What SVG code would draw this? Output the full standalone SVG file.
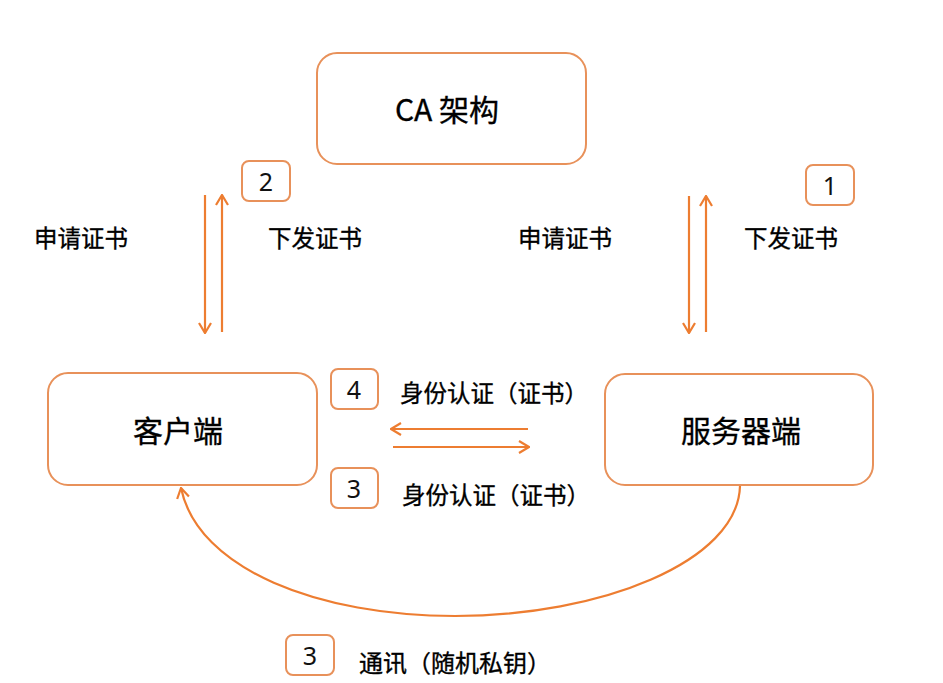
<svg xmlns="http://www.w3.org/2000/svg" width="943" height="683" viewBox="0 0 943 683">
<style>
.box{fill:#fff;stroke:#E8915A;stroke-width:2}
.badge{fill:#fff;stroke:#E8915A;stroke-width:2}
.t{font-family:"Noto Sans CJK SC","Noto Sans",sans-serif;fill:#000;text-anchor:middle;dominant-baseline:central;font-weight:400;stroke:#000;stroke-width:0.35}
.node{font-size:30px}
.lbl{font-size:23.5px}
.num{font-family:"Noto Sans","Liberation Sans",sans-serif;font-size:25px;fill:#111;text-anchor:middle;dominant-baseline:central}
.ln{fill:none;stroke:#ED7D31;stroke-width:2.2}
</style>
<defs>
<marker id="ah" viewBox="0 0 12 14" refX="11" refY="7" markerWidth="12" markerHeight="14" markerUnits="userSpaceOnUse" orient="auto">
<path d="M1,1 L11,7 L1,13" fill="none" stroke="#ED7D31" stroke-width="2.2"/>
</marker>
</defs>
<rect width="943" height="683" fill="#fff"/>
<g id="ca">
<rect class="box" x="317" y="53" width="269" height="111" rx="20"/>
<text class="t node" x="447" y="108">CA 架构</text>
</g>
<g id="client">
<rect class="box" x="48" y="373" width="269" height="112" rx="20"/>
<text class="t node" x="178" y="429">客户端</text>
</g>
<g id="server">
<rect class="box" x="605" y="374" width="268" height="111" rx="20"/>
<text class="t node" x="741" y="429">服务器端</text>
</g>
<g id="badges">
<rect class="badge" x="242" y="161" width="48" height="40" rx="7"/>
<text class="num" x="266" y="181">2</text>
<rect class="badge" x="806" y="165" width="48" height="40" rx="7"/>
<text class="num" x="830" y="185">1</text>
<rect class="badge" x="331" y="369" width="47" height="40" rx="7"/>
<text class="num" x="354" y="389">4</text>
<rect class="badge" x="331" y="468" width="47" height="40" rx="7"/>
<text class="num" x="354" y="488">3</text>
<rect class="badge" x="286" y="635" width="48" height="40" rx="7"/>
<text class="num" x="310" y="655">3</text>
</g>
<g id="labels">
<text class="t lbl" x="81" y="237">申请证书</text>
<text class="t lbl" x="315" y="237">下发证书</text>
<text class="t lbl" x="565" y="237">申请证书</text>
<text class="t lbl" x="791" y="237">下发证书</text>
<text class="t lbl" x="494" y="392">身份认证（证书）</text>
<text class="t lbl" x="496" y="494">身份认证（证书）</text>
<text class="t lbl" style="font-size:24px" x="455" y="661">通讯（随机私钥）</text>
</g>
<g id="connectors">
<line class="ln" x1="205" y1="195" x2="205" y2="333" marker-end="url(#ah)"/>
<line class="ln" x1="222" y1="332" x2="222" y2="195" marker-end="url(#ah)"/>
<line class="ln" x1="689" y1="196" x2="689" y2="333" marker-end="url(#ah)"/>
<line class="ln" x1="706" y1="332" x2="706" y2="196" marker-end="url(#ah)"/>
<line class="ln" x1="528" y1="429" x2="391" y2="429" marker-end="url(#ah)"/>
<line class="ln" x1="393" y1="447" x2="529" y2="447" marker-end="url(#ah)"/>
<path class="ln" d="M740,486 C738,562 600,616 455,616 C320,616 198,570 181,488" marker-end="url(#ah)"/>
</g>
</svg>
